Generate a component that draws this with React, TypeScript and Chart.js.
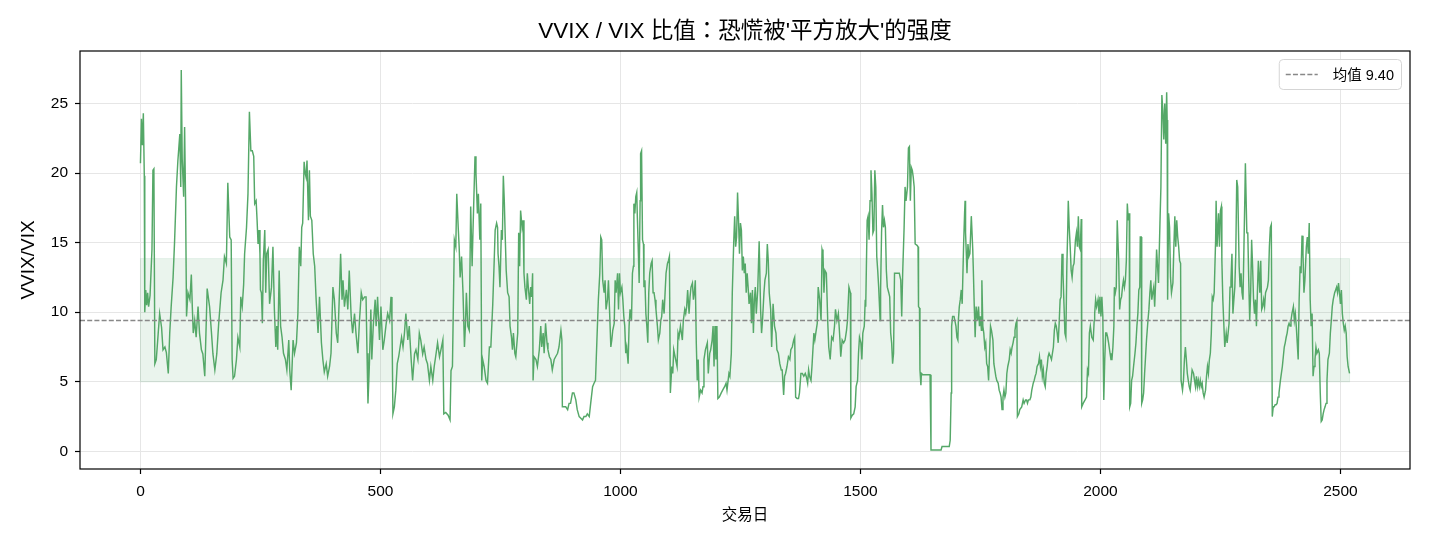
import React, { useEffect, useRef } from "react";
import { Chart, registerables } from "chart.js";

Chart.register(...registerables);

const TITLE = "VVIX / VIX 比值：恐慌被'平方放大'的强度";
const X_LABEL = "交易日";
const Y_LABEL = "VVIX/VIX";
const MEAN = 9.4;
const LEGEND_LABEL = `均值 ${MEAN.toFixed(2)}`;
const BAND_LOW = 5.0;
const BAND_HIGH = 13.85;
const X_TICKS = [0, 500, 1000, 1500, 2000, 2500];
const Y_TICKS = [0, 5, 10, 15, 20, 25];

// [trading day, VVIX/VIX]
const PART_1: [number, number][] = [
  [0, 20.7], [2, 23.9], [4, 22.0], [6, 24.3], [8, 19.8], [9, 10.0], [11, 11.6], [13, 10.5], [15, 11.4], [17, 10.4],
  [20, 11.2], [24, 14.5], [26, 20.2], [28, 20.3], [30, 6.3], [33, 6.6], [37, 8.5], [40, 9.9], [44, 8.9], [47, 7.3],
  [51, 7.5], [54, 7.1], [58, 5.6], [61, 8.5], [64, 10.4], [68, 12.5], [71, 15.0], [75, 19.0], [78, 20.9], [82, 22.8],
  [84, 19.0], [85, 27.4], [87, 21.0], [90, 18.3], [92, 23.3], [94, 18.0], [96, 9.7], [99, 11.4], [103, 10.9], [106, 12.7],
  [108, 10.4], [110, 8.5], [113, 9.4], [116, 8.2], [120, 10.4], [123, 8.5], [127, 7.3], [130, 7.0], [134, 5.4], [139, 11.7],
  [144, 10.4], [148, 8.5], [151, 7.0], [155, 5.85], [159, 7.0], [163, 9.2], [168, 11.4], [172, 12.3], [175, 14.0], [179, 13.5],
  [182, 19.3], [186, 15.4], [189, 15.2], [191, 6.6], [193, 5.25], [196, 5.4], [200, 6.6], [203, 8.2], [207, 7.5], [209, 11.1],
  [212, 10.4], [215, 12.0], [217, 14.2], [221, 16.1], [224, 18.5], [227, 24.4], [230, 21.6], [233, 21.6],
];
const PART_2: [number, number][] = [
  [236, 21.2], [238, 17.8], [241, 18.0], [243, 16.6], [245, 14.9], [247, 15.9], [249, 14.2], [250, 11.6], [252, 11.4], [254, 9.2],
  [256, 13.7], [259, 15.9], [261, 11.4], [263, 14.2], [266, 14.5], [269, 10.6], [273, 11.8], [276, 14.7], [279, 10.2], [282, 7.5],
  [284, 9.0], [286, 7.3], [289, 13.0], [292, 9.0], [295, 8.2], [298, 7.05], [302, 6.6], [305, 5.85], [309, 8.0], [311, 5.85],
  [314, 4.4], [318, 8.0], [321, 7.05], [325, 7.8], [328, 9.9], [331, 14.7], [334, 13.3], [336, 16.1], [338, 16.4], [341, 20.8],
  [343, 20.0], [345, 19.7], [347, 20.9], [350, 16.6], [352, 20.2], [354, 16.9], [357, 16.6], [360, 14.2], [363, 13.3], [366, 10.9],
  [370, 8.5], [373, 11.1], [377, 7.8], [380, 6.6], [383, 5.7], [387, 6.3], [390, 5.4], [394, 6.1], [397, 7.05], [401, 11.8],
  [404, 10.9], [408, 8.5], [411, 7.8], [415, 11.8], [417, 14.2], [420, 10.9], [422, 12.3], [425, 10.4], [429, 11.6], [432, 10.2],
  [435, 13.0], [439, 9.7], [442, 8.5], [446, 9.9], [449, 8.5], [453, 7.05], [456, 9.2], [460, 11.4], [463, 10.9], [467, 11.1],
  [470, 11.1], [472, 7.05], [474, 3.45], [477, 6.3],
];
const PART_3: [number, number][] = [
  [480, 10.2], [482, 6.6], [485, 9.0], [489, 10.9], [491, 9.0], [494, 11.1], [498, 8.0], [501, 10.4], [505, 7.3], [508, 8.0],
  [512, 9.2], [515, 9.9], [519, 9.4], [522, 11.1], [524, 9.4], [526, 2.7], [529, 3.2], [532, 4.4], [535, 6.3], [538, 6.8],
  [541, 7.5], [544, 8.2], [547, 7.5], [550, 8.5], [553, 9.9], [557, 8.0], [560, 9.0], [564, 6.6], [567, 5.1], [571, 7.0],
  [574, 7.3], [578, 6.6], [581, 8.5], [584, 8.0], [588, 7.0], [591, 7.5], [595, 6.6], [598, 6.3], [602, 5.1], [605, 6.1],
  [609, 5.1], [612, 6.1], [616, 7.05], [619, 7.8], [623, 6.8], [626, 7.3], [630, 8.0], [632, 2.7], [636, 2.8], [641, 2.6],
  [645, 2.26], [647, 5.8], [650, 6.1], [654, 15.2], [657, 14.7], [659, 18.5], [662, 16.1], [664, 14.7], [666, 12.5], [669, 14.0],
  [672, 11.4], [675, 7.5], [677, 9.0], [679, 11.4], [682, 9.0], [685, 8.7], [688, 17.6], [691, 13.3], [693, 16.1], [697, 21.2],
  [699, 20.0], [702, 17.1], [704, 18.5], [707, 15.2], [709, 17.8], [711, 5.1], [713, 6.6], [716, 6.1], [720, 5.1], [723, 4.9],
  [727, 7.5], [730, 7.5], [734, 10.6], [737, 13.7],
];
const PART_4: [number, number][] = [
  [739, 15.9], [742, 16.4], [744, 16.1], [745, 14.2], [747, 13.3], [749, 11.8], [752, 15.9], [754, 15.2], [756, 19.8], [758, 18.0],
  [760, 15.4], [762, 13.0], [765, 11.4], [768, 11.1], [770, 9.0], [773, 8.2], [775, 7.3], [777, 8.5], [780, 7.05], [782, 6.8],
  [786, 8.5], [788, 15.7], [790, 13.3], [792, 17.3], [795, 16.1], [797, 16.6], [799, 12.8], [801, 11.8], [804, 10.9], [806, 12.8],
  [808, 11.8], [811, 10.6], [813, 11.8], [815, 11.1], [817, 12.8], [818, 5.1], [820, 6.8], [824, 6.6], [827, 6.1], [831, 7.3],
  [834, 9.0], [836, 7.5], [839, 8.5], [841, 7.05], [844, 9.2], [847, 7.8], [849, 7.3], [852, 6.8], [855, 6.6], [858, 5.85],
  [862, 6.6], [865, 6.8], [869, 7.05], [872, 7.5], [876, 8.7], [878, 8.0], [879, 3.2], [883, 3.2], [886, 3.2], [890, 3.0],
  [893, 3.45], [896, 3.45], [900, 4.2], [903, 4.2], [907, 3.7], [910, 3.0], [914, 2.5], [917, 2.4], [921, 2.26], [924, 2.5],
  [928, 2.5], [931, 2.7], [935, 2.5], [938, 3.45], [942, 4.65], [945, 4.9], [948, 5.1], [951, 8.0], [954, 10.9], [957, 12.8],
  [959, 15.4], [961, 15.2], [963, 12.3], [966, 11.4], [968, 12.3], [970, 10.2], [973, 10.9], [975, 12.3], [977, 10.4], [980, 7.5],
  [982, 8.0], [984, 8.7], [987, 9.2], [989, 12.3],
];
const PART_5: [number, number][] = [
  [991, 11.4], [994, 12.8], [996, 10.2], [998, 12.8], [1000, 11.4], [1003, 11.8], [1005, 10.9], [1007, 9.7], [1009, 9.0], [1011, 7.05],
  [1013, 7.5], [1016, 6.3], [1018, 9.0], [1020, 10.2], [1023, 9.4], [1025, 12.8], [1027, 13.3], [1028, 17.8], [1030, 17.1], [1032, 18.3],
  [1034, 18.6], [1035, 17.1], [1037, 14.7], [1039, 12.1], [1041, 18.0], [1042, 21.4], [1044, 21.6], [1046, 15.2], [1048, 14.9], [1049, 11.8],
  [1051, 12.3], [1053, 9.9], [1055, 9.0], [1057, 7.8], [1059, 11.4], [1061, 12.8], [1064, 13.5], [1066, 13.7], [1068, 11.4], [1070, 11.4],
  [1072, 10.9], [1074, 10.2], [1077, 9.0], [1079, 8.0], [1082, 8.5], [1084, 9.4], [1086, 9.7], [1088, 10.9], [1091, 9.9], [1093, 11.4],
  [1095, 12.8], [1098, 13.5], [1100, 13.7], [1102, 14.0], [1104, 4.2], [1107, 6.1], [1109, 5.6], [1111, 7.3], [1115, 6.6], [1118, 6.1],
  [1120, 8.5], [1122, 8.2], [1125, 9.0], [1129, 8.0], [1131, 9.4], [1134, 10.2], [1136, 9.9], [1138, 10.4], [1140, 11.6], [1143, 9.9],
  [1145, 11.1], [1147, 11.8], [1150, 12.1], [1152, 10.9], [1154, 11.4], [1156, 12.3], [1158, 7.8], [1160, 5.1], [1162, 6.6], [1164, 3.9],
  [1167, 4.4], [1170, 4.2], [1172, 4.65], [1174, 6.6], [1177, 7.3], [1181, 7.8], [1183, 5.6], [1186, 7.05], [1188, 7.3], [1191, 8.0],
  [1193, 9.0], [1195, 6.1], [1197, 9.0], [1199, 6.6], [1201, 9.0], [1203, 3.8], [1206, 3.9], [1210, 4.2], [1213, 4.4], [1217, 4.65],
  [1220, 4.9], [1222, 4.4], [1226, 5.6], [1228, 5.4], [1231, 7.05], [1233, 11.4], [1236, 15.0],
];
const PART_6: [number, number][] = [
  [1238, 16.9], [1240, 14.7], [1242, 15.4], [1244, 18.6], [1246, 16.6], [1248, 14.2], [1250, 16.4], [1252, 15.9], [1254, 13.0], [1256, 14.0],
  [1258, 12.8], [1260, 13.5], [1262, 11.4], [1264, 12.8], [1266, 11.8], [1268, 10.6], [1271, 11.4], [1273, 9.2], [1275, 11.6], [1277, 8.5],
  [1279, 10.9], [1281, 11.8], [1283, 9.9], [1286, 11.6], [1289, 15.1], [1292, 10.2], [1294, 8.5], [1296, 9.4], [1299, 11.4], [1301, 12.3],
  [1304, 12.8], [1306, 14.9], [1308, 13.7], [1310, 11.4], [1313, 10.2], [1315, 7.5], [1318, 10.6], [1321, 9.0], [1324, 8.5], [1326, 7.3],
  [1329, 7.05], [1332, 6.3], [1335, 5.85], [1337, 5.85], [1340, 4.05], [1342, 5.4], [1344, 5.6], [1347, 6.1], [1350, 6.8], [1353, 6.6],
  [1355, 7.3], [1358, 7.5], [1361, 8.0], [1363, 8.2], [1365, 3.9], [1368, 3.8], [1371, 3.8], [1373, 4.2], [1376, 5.6], [1379, 5.6],
  [1382, 5.4], [1385, 5.6], [1387, 5.4], [1390, 4.9], [1392, 5.85], [1394, 5.4], [1397, 5.1], [1399, 6.1], [1403, 8.5], [1405, 8.0],
  [1407, 8.5], [1410, 9.2], [1412, 11.8], [1415, 10.9], [1418, 9.4], [1420, 14.5], [1422, 14.2], [1424, 11.4], [1426, 13.0], [1429, 12.8],
  [1432, 9.2], [1434, 7.5], [1437, 6.6], [1440, 8.2], [1443, 8.0], [1446, 9.0], [1448, 10.2], [1451, 9.4], [1454, 9.9], [1457, 8.2],
  [1459, 6.8], [1462, 8.0], [1465, 7.8], [1468, 8.0], [1471, 8.7], [1473, 9.4], [1476, 11.8], [1479, 11.4], [1480, 2.4], [1483, 2.6],
  [1486, 2.7], [1489, 3.2],
];
const PART_7: [number, number][] = [
  [1491, 4.65], [1494, 5.1], [1496, 7.05], [1498, 8.2], [1501, 7.8], [1503, 6.6], [1505, 8.5], [1508, 9.0], [1510, 10.9], [1511, 10.4],
  [1514, 16.6], [1516, 16.9], [1518, 15.2], [1520, 18.0], [1522, 20.2], [1524, 18.5], [1526, 15.7], [1528, 15.9], [1530, 20.2], [1532, 19.0],
  [1534, 14.0], [1536, 13.0], [1538, 11.8], [1541, 9.4], [1542, 11.6], [1544, 15.7], [1546, 17.7], [1548, 16.1], [1550, 16.6], [1552, 16.1],
  [1554, 13.0], [1556, 11.8], [1559, 11.4], [1561, 11.1], [1563, 8.5], [1565, 7.8], [1567, 6.3], [1569, 7.05], [1571, 12.8], [1576, 12.8],
  [1581, 12.8], [1584, 12.3], [1586, 9.7], [1588, 12.8], [1591, 16.1], [1593, 19.0], [1595, 18.0], [1598, 19.0], [1600, 21.8], [1602, 21.9],
  [1604, 18.0], [1606, 20.4], [1608, 20.2], [1610, 19.7], [1612, 19.0], [1614, 14.9], [1618, 14.8], [1620, 14.7], [1621, 10.4], [1623, 10.3],
  [1624, 5.85], [1626, 4.75], [1627, 5.6], [1630, 5.5], [1645, 5.5], [1647, 0.1], [1668, 0.1], [1670, 0.35], [1685, 0.35], [1687, 0.8],
  [1689, 4.2], [1690, 9.0], [1692, 9.7], [1695, 9.7], [1699, 9.0], [1701, 8.2], [1703, 8.0], [1704, 9.4], [1706, 10.4], [1708, 10.9],
  [1710, 11.6], [1712, 10.6], [1715, 14.9], [1717, 17.1], [1718, 18.0], [1719, 15.7], [1722, 12.8], [1724, 14.9], [1726, 14.0], [1728, 14.2],
  [1731, 16.9], [1734, 14.5], [1735, 13.3], [1737, 10.6], [1739, 8.2],
];
const PART_8: [number, number][] = [
  [1741, 10.4], [1744, 9.4], [1746, 10.4], [1748, 9.0], [1750, 9.7], [1752, 8.7], [1753, 12.3], [1755, 9.0], [1757, 8.5], [1759, 7.5],
  [1761, 7.8], [1763, 6.3], [1765, 6.1], [1767, 5.1], [1769, 7.05], [1771, 9.0], [1773, 8.7], [1776, 8.0], [1778, 6.3], [1780, 5.85],
  [1782, 5.4], [1784, 5.1], [1787, 4.9], [1789, 4.4], [1791, 4.2], [1793, 3.9], [1795, 3.0], [1797, 3.9], [1799, 4.4], [1801, 3.9],
  [1803, 4.2], [1805, 5.6], [1807, 6.1], [1810, 6.6], [1812, 7.3], [1814, 7.05], [1816, 7.5], [1818, 7.8], [1820, 8.2], [1822, 8.7],
  [1824, 9.2], [1826, 9.4], [1827, 2.5], [1830, 2.7], [1832, 3.0], [1836, 3.2], [1839, 3.7], [1841, 3.45], [1844, 3.7], [1846, 3.7],
  [1848, 3.45], [1850, 3.7], [1853, 3.7], [1855, 3.9], [1857, 4.4], [1860, 4.9], [1862, 5.1], [1864, 5.4], [1866, 5.6], [1868, 6.1],
  [1871, 6.3], [1873, 6.8], [1875, 6.1], [1877, 6.6], [1879, 5.4], [1881, 5.85], [1883, 4.9], [1885, 4.65], [1887, 5.6], [1889, 6.1],
  [1891, 6.8], [1893, 7.05], [1896, 6.8], [1898, 6.6], [1900, 7.05], [1902, 7.5], [1904, 8.7], [1906, 9.2], [1908, 9.0], [1910, 8.5],
  [1912, 7.8], [1914, 9.2], [1916, 10.9], [1918, 11.1], [1920, 14.2], [1922, 12.8], [1924, 10.6], [1926, 8.5], [1928, 8.2], [1930, 13.3],
  [1932, 16.1], [1933, 18.0], [1935, 16.1], [1937, 14.7], [1939, 13.0], [1941, 12.5], [1943, 13.3], [1945, 13.5], [1948, 15.2], [1950, 15.7],
  [1952, 14.7], [1954, 16.9], [1956, 14.7], [1958, 14.5], [1960, 16.7], [1961, 3.2], [1964, 3.45], [1968, 3.7], [1971, 3.9], [1973, 5.85],
  [1975, 5.6], [1977, 8.5], [1979, 9.0], [1982, 8.2], [1985, 8.0], [1987, 9.4], [1988, 9.9],
];
const PART_9: [number, number][] = [
  [1990, 10.9], [1992, 10.4], [1995, 10.9], [1997, 9.9], [1999, 11.1], [2001, 9.7], [2003, 11.1], [2005, 9.7], [2007, 3.7], [2009, 6.6],
  [2011, 8.5], [2013, 8.5], [2015, 8.2], [2017, 7.8], [2020, 7.05], [2022, 6.6], [2024, 6.6], [2026, 7.5], [2028, 9.0], [2029, 11.8],
  [2031, 11.4], [2033, 11.8], [2035, 16.6], [2038, 13.7], [2040, 10.2], [2042, 10.9], [2044, 11.1], [2046, 11.8], [2048, 12.3], [2050, 11.8],
  [2052, 12.3], [2054, 13.7], [2056, 17.8], [2058, 16.6], [2060, 17.1], [2061, 3.2], [2063, 3.45], [2065, 5.1], [2067, 5.4], [2069, 6.1],
  [2072, 7.05], [2074, 7.8], [2076, 9.0], [2078, 9.9], [2080, 11.6], [2082, 11.8], [2083, 15.4], [2085, 15.4], [2086, 3.45], [2088, 3.7],
  [2090, 4.2], [2092, 5.6], [2094, 6.8], [2096, 8.0], [2099, 9.4], [2101, 10.2], [2103, 11.4], [2105, 12.3], [2107, 10.9], [2109, 11.4],
  [2111, 11.8], [2113, 10.4], [2115, 12.1], [2117, 14.5], [2119, 13.3], [2121, 12.1], [2124, 16.4], [2126, 19.0], [2128, 25.6], [2130, 24.5],
  [2132, 22.4], [2134, 25.0], [2136, 22.1], [2138, 25.8], [2139, 23.8], [2140, 10.9], [2142, 17.1], [2144, 16.1], [2146, 12.5], [2148, 11.4],
  [2151, 12.1], [2153, 14.7], [2155, 16.9], [2157, 14.7], [2159, 16.6], [2161, 15.4], [2163, 14.7], [2165, 13.7], [2167, 13.5], [2168, 5.1],
  [2171, 4.4], [2173, 5.1], [2175, 6.6], [2177, 7.5], [2179, 6.6], [2181, 5.6], [2183, 5.1], [2185, 4.65], [2187, 4.4], [2189, 5.1],
  [2191, 5.85], [2194, 5.6], [2196, 5.1], [2198, 4.65], [2200, 5.4], [2202, 4.65], [2204, 5.1], [2206, 4.65], [2208, 5.1], [2210, 4.65],
  [2212, 4.9], [2214, 4.2], [2216, 3.9], [2219, 4.4], [2221, 5.4], [2223, 6.1], [2225, 5.6], [2227, 6.6], [2229, 7.05], [2231, 8.5],
  [2233, 11.1], [2235, 10.9], [2237, 11.4],
];
const PART_10: [number, number][] = [
  [2240, 15.2], [2241, 18.0], [2243, 14.7], [2246, 17.1], [2248, 14.7], [2250, 17.3], [2252, 17.6], [2253, 13.7], [2255, 10.9], [2257, 9.2],
  [2259, 7.5], [2262, 8.5], [2264, 7.8], [2266, 8.5], [2268, 9.2], [2270, 11.8], [2272, 12.3], [2274, 14.2], [2276, 9.9], [2278, 10.9],
  [2280, 11.8], [2282, 14.2], [2284, 19.5], [2286, 19.0], [2289, 13.3], [2291, 11.8], [2293, 12.8], [2295, 11.4], [2297, 10.9], [2299, 14.7],
  [2301, 18.5], [2302, 20.7], [2305, 15.7], [2307, 15.7], [2309, 12.3], [2311, 9.4], [2313, 11.4], [2315, 15.2], [2317, 13.3], [2319, 10.9],
  [2321, 9.9], [2323, 10.9], [2325, 9.0], [2327, 11.4], [2329, 13.7], [2332, 11.4], [2334, 13.7], [2336, 10.2], [2338, 10.4], [2340, 10.9],
  [2342, 10.4], [2344, 11.4], [2346, 11.6], [2348, 11.8], [2350, 12.3], [2352, 14.7], [2354, 16.1], [2356, 16.3], [2358, 2.5], [2360, 3.2],
  [2362, 3.2], [2364, 3.35], [2366, 3.35], [2368, 3.45], [2370, 3.9], [2372, 4.2], [2375, 5.1], [2377, 5.6], [2379, 6.1], [2381, 6.8],
  [2383, 7.5], [2385, 7.8], [2387, 8.2], [2389, 8.5], [2391, 9.0], [2393, 9.2], [2395, 9.0], [2397, 9.4], [2399, 9.9], [2402, 10.4],
  [2404, 9.4], [2406, 9.9], [2408, 9.0], [2410, 7.8], [2412, 6.6], [2414, 10.9], [2416, 13.3], [2418, 12.8], [2420, 15.5], [2422, 14.2],
  [2424, 11.4], [2426, 12.3], [2429, 14.7], [2431, 15.4], [2433, 14.2], [2435, 16.4], [2437, 10.9], [2439, 9.0], [2441, 9.9], [2443, 5.4],
  [2445, 6.1], [2447, 6.6], [2449, 7.5], [2451, 7.05], [2454, 7.3], [2456, 7.05], [2458, 4.2], [2460, 2.15], [2462, 2.26], [2464, 2.7],
  [2466, 3.0], [2468, 3.2], [2470, 3.45], [2472, 5.1], [2474, 6.6], [2477, 7.05], [2479, 8.5], [2481, 9.4], [2483, 10.4], [2485, 10.9],
  [2488, 11.4], [2490, 11.6], [2492, 11.8], [2494, 11.4], [2496, 12.1], [2498, 11.4], [2500, 10.6], [2502, 11.6], [2504, 9.9], [2506, 9.2],
  [2508, 8.7], [2510, 9.0], [2512, 8.5], [2514, 6.8], [2516, 6.1], [2519, 5.6],
];

const SERIES = [
  ...PART_1, ...PART_2, ...PART_3, ...PART_4, ...PART_5,
  ...PART_6, ...PART_7, ...PART_8, ...PART_9, ...PART_10,
];

const FAMILY = '"Liberation Sans", Arial, "Noto Sans CJK SC", sans-serif';
const TITLE_FAMILY = '"Liberation Sans", Arial, "Noto Sans CJK TC", "Noto Sans CJK SC", sans-serif';
const GREEN = "#55a868";
const GRID = "#e6e6e6";

export default function App() {
  const ref = useRef<HTMLCanvasElement | null>(null);

  useEffect(() => {
    if (!ref.current) return;
    const xs = SERIES.map((p) => p[0]);
    const ys = SERIES.map((p) => p[1]);
    const xMin = Math.min(...xs);
    const xMax = Math.max(...xs);
    const yMin = Math.min(...ys);
    const yMax = Math.max(...ys);
    const xPad = (xMax - xMin) * 0.05;
    const yPad = (yMax - yMin) * 0.05;

    const decor = {
      id: "decor",
      beforeDatasetsDraw(chart: any) {
        const { ctx, chartArea, scales } = chart;
        const x0 = scales.x.getPixelForValue(xMin);
        const x1 = scales.x.getPixelForValue(xMax);
        const yTop = scales.y.getPixelForValue(BAND_HIGH);
        const yBot = scales.y.getPixelForValue(BAND_LOW);
        ctx.save();
        ctx.beginPath();
        ctx.rect(chartArea.left, chartArea.top, chartArea.width, chartArea.height);
        ctx.clip();
        ctx.fillStyle = "rgba(85,168,104,0.12)";
        ctx.fillRect(x0, yTop, x1 - x0, yBot - yTop);
        ctx.strokeStyle = "rgba(85,168,104,0.12)";
        ctx.lineWidth = 1;
        ctx.strokeRect(x0, yTop, x1 - x0, yBot - yTop);
        ctx.restore();
      },
      afterDatasetsDraw(chart: any) {
        const { ctx, chartArea, scales } = chart;
        const ym = scales.y.getPixelForValue(MEAN);
        ctx.save();
        ctx.strokeStyle = "#888888";
        ctx.lineWidth = 1.4;
        ctx.setLineDash([5, 2.2]);
        ctx.beginPath();
        ctx.moveTo(chartArea.left, ym);
        ctx.lineTo(chartArea.right, ym);
        ctx.stroke();
        ctx.restore();
      },
      afterDraw(chart: any) {
        const { ctx, chartArea } = chart;
        ctx.save();
        // frame
        ctx.strokeStyle = "#000";
        ctx.lineWidth = 1.2;
        ctx.strokeRect(chartArea.left, chartArea.top, chartArea.width, chartArea.height);
        // title
        ctx.fillStyle = "#000";
        ctx.font = `22.5px ${TITLE_FAMILY}`;
        ctx.textAlign = "center";
        ctx.textBaseline = "middle";
        ctx.fillText(TITLE, (chartArea.left + chartArea.right) / 2, 32);
        // legend
        ctx.font = `14.5px ${FAMILY}`;
        const tw = ctx.measureText(LEGEND_LABEL).width;
        const pad = 7;
        const handle = 32;
        const gap = 15;
        const w = pad + handle + gap + tw + pad;
        const h = 30;
        const bx = chartArea.right - 9 - w;
        const by = chartArea.top + 8;
        ctx.fillStyle = "rgba(255,255,255,0.85)";
        ctx.strokeStyle = "#d5d5d5";
        ctx.lineWidth = 1;
        ctx.setLineDash([]);
        ctx.beginPath();
        (ctx as any).roundRect(bx + 0.5, by + 0.5, w, h, 4);
        ctx.fill();
        ctx.stroke();
        const cy = by + h / 2 + 0.5;
        ctx.strokeStyle = "#888888";
        ctx.lineWidth = 1.4;
        ctx.setLineDash([5, 2.2]);
        ctx.beginPath();
        ctx.moveTo(bx + pad, cy);
        ctx.lineTo(bx + pad + handle, cy);
        ctx.stroke();
        ctx.setLineDash([]);
        ctx.fillStyle = "#000";
        ctx.textAlign = "left";
        ctx.textBaseline = "middle";
        ctx.fillText(LEGEND_LABEL, bx + pad + handle + gap, cy + 1);
        ctx.restore();
      },
    };

    const chart = new Chart(ref.current, {
      type: "line",
      data: {
        datasets: [
          {
            label: Y_LABEL,
            data: SERIES.map(([x, y]) => ({ x, y })),
            borderColor: GREEN,
            borderWidth: 1.45,
            pointRadius: 0,
            tension: 0,
            fill: false,
          },
        ],
      },
      options: {
        animation: false,
        responsive: false,
        maintainAspectRatio: false,
        layout: { padding: { top: 51, right: 20, left: 0, bottom: 0 } },
        plugins: {
          legend: { display: false },
          title: { display: false },
          tooltip: { enabled: false },
        },
        scales: {
          x: {
            type: "linear",
            min: xMin - xPad,
            max: xMax + xPad,
            afterBuildTicks: (s: any) => {
              s.ticks = X_TICKS.map((v) => ({ value: v }));
            },
            afterFit: (s: any) => {
              s.height = 77;
            },
            border: { display: false },
            grid: { color: GRID, lineWidth: 1, drawTicks: true, tickLength: 5, tickColor: "#000", tickWidth: 1.2 },
            ticks: {
              color: "#000",
              font: { family: FAMILY, size: 15.5 },
              padding: 8,
              maxRotation: 0,
              autoSkip: false,
              callback: (v: any) => String(v),
            },
            title: {
              display: true,
              text: X_LABEL,
              color: "#000",
              font: { family: FAMILY, size: 15.5 },
              padding: { top: 0, bottom: 21 },
            },
          },
          y: {
            type: "linear",
            min: yMin - yPad,
            max: yMax + yPad,
            afterBuildTicks: (s: any) => {
              s.ticks = Y_TICKS.map((v) => ({ value: v }));
            },
            afterFit: (s: any) => {
              s.width = 80;
            },
            border: { display: false },
            grid: { color: GRID, lineWidth: 1, drawTicks: true, tickLength: 5, tickColor: "#000", tickWidth: 1.2 },
            ticks: {
              color: "#000",
              font: { family: FAMILY, size: 15.5 },
              padding: 7,
              autoSkip: false,
              callback: (v: any) => String(v),
            },
            title: {
              display: true,
              text: Y_LABEL,
              color: "#000",
              font: { family: FAMILY, size: 19 },
              padding: { top: 17, bottom: 0 },
            },
          },
        },
      },
      plugins: [decor],
    });
    return () => chart.destroy();
  }, []);

  return (
    <div style={{ position: "fixed", left: 0, top: 0, width: 1430, height: 546, background: "#fff" }}>
      <canvas ref={ref} width={1430} height={546} style={{ display: "block", width: 1430, height: 546 }} />
    </div>
  );
}
